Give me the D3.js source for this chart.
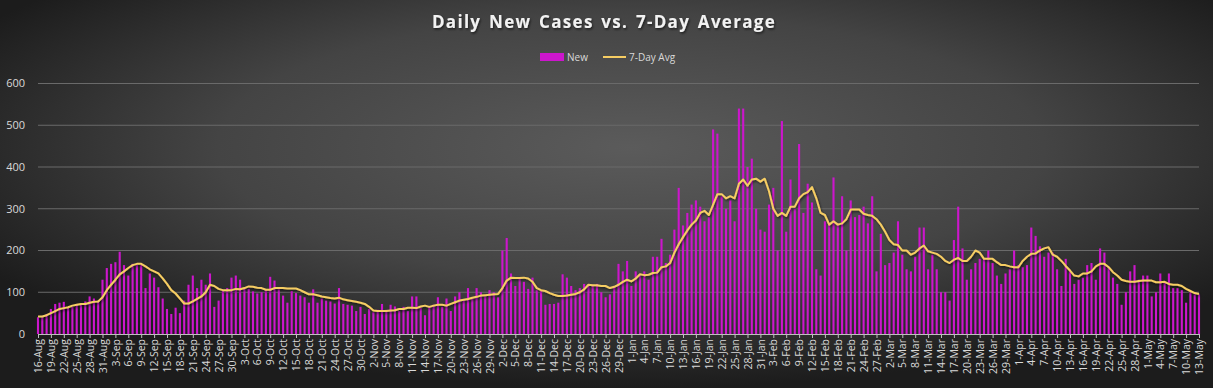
<!DOCTYPE html>
<html>
<head>
<meta charset="utf-8">
<script src="https://cdn.jsdelivr.net/npm/d3@7"></script>
<style>
  html, body { margin: 0; padding: 0; background: #2a2a2a; }
  svg { display: block; }
  .tick text { font-family: 'Open Sans', sans-serif; }
</style>
</head>
<body>
<div id="chart"></div>
<script>
var width = 1213;
var height = 388;

// first day of the series, one category per day
var startDay = new Date(2020, 7, 16);
var endDay = new Date(2021, 4, 13);

var newCases = [
  40, 40, 48, 60, 72, 75, 77, 62, 65, 72,
  72, 78, 90, 85, 80, 130, 158, 168, 172, 197,
  165, 140, 168, 165, 165, 110, 145, 135, 112, 85,
  60, 48, 63, 50, 80, 118, 140, 110, 130, 118,
  145, 65, 80, 105, 110, 135, 140, 130, 110, 108,
  102, 97, 100, 105, 137, 128, 107, 92, 75, 103,
  98, 92, 88, 75, 107, 75, 85, 80, 78, 73,
  110, 72, 70, 68, 55, 65, 48, 60, 52, 58,
  72, 58, 70, 66, 55, 65, 55, 90, 90, 63,
  45, 65, 70, 88, 65, 85, 55, 90, 100, 80,
  110, 85, 110, 100, 90, 105, 100, 88, 200, 230,
  145, 115, 132, 125, 108, 135, 105, 103, 70, 72,
  72, 75, 143, 135, 115, 105, 110, 120, 118, 115,
  120, 100, 88, 95, 115, 168, 150, 175, 115, 150,
  140, 150, 130, 185, 185, 228, 170, 190, 250, 350,
  260, 290, 310, 320, 305, 270, 280, 490, 480, 330,
  300, 320, 270, 540, 540, 400, 420, 300, 250, 245,
  310, 350, 200, 510, 245, 370, 300, 455, 290, 360,
  315, 155, 140, 270, 265, 375, 265, 330, 200, 320,
  280, 285, 305, 265, 330, 150, 240, 165, 170, 195,
  270, 190, 155, 150, 185, 255, 255, 155, 190, 155,
  100, 100, 80, 225, 305, 205, 130, 155, 170, 180,
  180, 200, 170, 140, 120, 145, 155, 200, 165, 160,
  165, 255, 235, 210, 185, 195, 195, 155, 115, 180,
  150, 120, 130, 135, 165, 170, 130, 205, 195, 160,
  135, 120, 70, 100, 150, 165, 130, 140, 140, 90,
  100, 145, 125, 145, 110, 110, 105, 75, 100, 95, 95
];

var avg7 = [
  42, 42, 45, 50, 55, 60, 62, 64, 68, 70,
  72, 72, 75, 77, 78, 88, 105, 118, 130, 143,
  150, 158, 165, 168, 168, 162, 155, 150, 145, 133,
  120, 105, 97, 85, 73, 73, 78, 84, 90, 100,
  118, 115, 108, 105, 105, 105, 108, 107, 110, 114,
  113, 111, 110, 106, 106, 110, 110, 110, 109, 109,
  109, 105, 100, 95, 95, 93, 90, 88, 86, 85,
  87, 83, 81, 79, 77, 75, 72, 65, 56, 55,
  55, 55, 56, 57, 60, 60, 63, 63, 62, 66,
  68, 65, 68, 70, 70, 68, 72, 76, 80, 82,
  84, 87, 89, 92, 93, 94, 95, 96, 110, 128,
  135, 134, 134, 135, 133, 125, 110, 105, 103, 98,
  94, 91, 91, 92, 94, 96, 100, 107, 118, 117,
  117, 115, 115, 110, 113, 118, 125, 130, 126, 133,
  143, 141, 142, 146, 147, 160, 162, 170, 195, 215,
  232, 248, 262, 272, 290, 295, 285, 310, 335, 335,
  325, 330, 325, 360, 370, 355, 370, 372, 365, 372,
  342, 300, 283, 290, 283, 305, 305, 325, 335, 340,
  352, 325, 290, 285, 262, 270, 262, 265, 275, 298,
  298, 298, 288, 285, 283, 275, 262, 245, 225, 215,
  213, 200, 200, 190, 195, 205, 212, 198, 195, 192,
  185, 175, 170, 178, 182, 175, 175, 185, 200, 195,
  180, 180, 180, 172, 165, 165, 162, 160, 160, 175,
  185, 192, 193, 200, 205, 208, 190, 185, 175, 163,
  152, 140, 138, 145, 145, 150, 162, 168, 168, 160,
  148, 140, 130, 127, 125, 125, 127, 128, 128, 128,
  124, 124, 125, 120, 118, 118, 115, 108, 103, 98, 96
];

var yTicks = [0, 100, 200, 300, 400, 500, 600];
var labelEvery = 3;

var days = d3.timeDay.range(startDay, d3.timeDay.offset(endDay, 1));
var fmt = d3.timeFormat('%-d-%b');

var margin = { left: 38, right: 14, top: 83.5, bottom: 54 };

var svg = d3.select('#chart').append('svg')
  .attr('width', width)
  .attr('height', height);

var defs = svg.append('defs');
var bg = defs.append('radialGradient')
  .attr('id', 'bg')
  .attr('cx', '52%').attr('cy', '38%').attr('r', '62%');
bg.append('stop').attr('offset', '0%').attr('stop-color', '#5b5b5b');
bg.append('stop').attr('offset', '55%').attr('stop-color', '#444444');
bg.append('stop').attr('offset', '100%').attr('stop-color', '#1c1c1c');

var shadow = defs.append('filter').attr('id', 'shadow')
  .attr('x', '-10%').attr('y', '-50%').attr('width', '120%').attr('height', '200%');
shadow.append('feDropShadow')
  .attr('dx', 1).attr('dy', 1.5).attr('stdDeviation', 1)
  .attr('flood-color', '#000').attr('flood-opacity', 0.6);

svg.append('rect')
  .attr('width', width)
  .attr('height', height)
  .attr('fill', 'url(#bg)');

var x = d3.scalePoint()
  .domain(d3.range(days.length))
  .range([margin.left, width - margin.right]);

var y = d3.scaleLinear()
  .domain([0, 600])
  .range([height - margin.bottom, margin.top]);

// gridlines
svg.append('g')
  .selectAll('line')
  .data(yTicks.slice(1))
  .enter().append('line')
  .attr('x1', margin.left)
  .attr('x2', width - margin.right)
  .attr('y1', function(d) { return y(d); })
  .attr('y2', function(d) { return y(d); })
  .attr('stroke', '#6a6a6a')
  .attr('stroke-width', 1);

// y labels
svg.append('g')
  .selectAll('text')
  .data(yTicks)
  .enter().append('text')
  .attr('x', 25)
  .attr('y', function(d) { return y(d); })
  .attr('dy', '0.35em')
  .attr('text-anchor', 'end')
  .attr('fill', '#d9d9d9')
  .style('font-family', "'Open Sans', sans-serif")
  .style('font-size', '11px')
  .text(function(d) { return d; });

// bars
var barW = 2.1;
svg.append('g')
  .selectAll('rect')
  .data(newCases)
  .enter().append('rect')
  .attr('x', function(d, i) { return x(i) - barW / 2; })
  .attr('y', function(d) { return y(d); })
  .attr('width', barW)
  .attr('height', function(d) { return y(0) - y(d); })
  .attr('fill', '#cc16cc');

// x axis
var xAxis = d3.axisBottom(x)
  .tickValues(d3.range(0, days.length, labelEvery))
  .tickSize(4)
  .tickSizeOuter(0)
  .tickFormat(function(i) { return fmt(days[i]); });

var gx = svg.append('g')
  .attr('transform', 'translate(0,' + y(0) + ')')
  .call(xAxis);

gx.select('.domain').attr('stroke', '#bfbfbf');
gx.selectAll('.tick line').attr('stroke', '#bfbfbf');
gx.selectAll('.tick text')
  .attr('fill', '#d9d9d9')
  .style('font-size', '10.5px')
  .attr('transform', 'rotate(-90)')
  .attr('text-anchor', 'end')
  .attr('x', -5)
  .attr('y', 0)
  .attr('dy', '0.35em');

// 7-day average
var line = d3.line()
  .x(function(d, i) { return x(i); })
  .y(function(d) { return y(d); });

svg.append('path')
  .datum(avg7)
  .attr('d', line)
  .attr('fill', 'none')
  .attr('stroke', '#f6cd63')
  .attr('stroke-width', 2)
  .attr('stroke-linejoin', 'round')
  .attr('filter', 'url(#shadow)');

// title
svg.append('text')
  .attr('x', 604)
  .attr('y', 28)
  .attr('text-anchor', 'middle')
  .attr('fill', '#f2f2f2')
  .attr('filter', 'url(#shadow)')
  .style('font-family', "'Open Sans', sans-serif")
  .style('font-weight', 'bold')
  .style('font-size', '17px')
  .style('letter-spacing', '1.3px')
  .style('word-spacing', '2px')
  .text('Daily New Cases vs. 7-Day Average');

// legend
var legend = svg.append('g').attr('transform', 'translate(540,57)');
legend.append('rect')
  .attr('x', 0).attr('y', -4)
  .attr('width', 24).attr('height', 8)
  .attr('fill', '#cc16cc');
legend.append('text')
  .attr('x', 27).attr('y', 0).attr('dy', '0.35em')
  .attr('fill', '#d9d9d9')
  .style('font-family', "'Open Sans', sans-serif")
  .style('font-size', '10px')
  .text('New');
legend.append('line')
  .attr('x1', 63).attr('x2', 86)
  .attr('y1', 0).attr('y2', 0)
  .attr('stroke', '#f6cd63')
  .attr('stroke-width', 2);
legend.append('text')
  .attr('x', 89).attr('y', 0).attr('dy', '0.35em')
  .attr('fill', '#d9d9d9')
  .style('font-family', "'Open Sans', sans-serif")
  .style('font-size', '10px')
  .text('7-Day Avg');
</script>
</body>
</html>
